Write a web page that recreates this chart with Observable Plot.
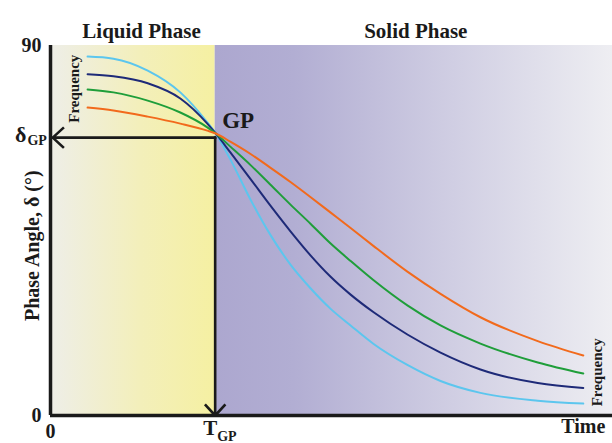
<!DOCTYPE html>
<html><head><meta charset="utf-8">
<script src="https://cdn.jsdelivr.net/npm/d3@7"></script>
<script src="https://cdn.jsdelivr.net/npm/@observablehq/plot@0.6"></script>
<style>body{margin:0;background:#fff}</style>
</head><body><div id="chart"></div>
<script>
// Data
const time = [6.6, 11.2, 17.3, 23.1, 27.9, 29.4, 32.0, 35.6, 39.1, 42.7, 46.3, 49.8, 53.4, 57.5, 63.5, 69.4, 76.5, 86.7, 94.8];
const cyanDelta   = [87.3, 86.8, 83.9, 78.6, 71.3, 68.6, 62.3, 52.5, 44.0, 36.7, 30.9, 26.0, 21.9, 17.4, 12.3, 8.4, 5.5, 3.6, 2.9];
const navyDelta   = [83.0, 82.5, 80.8, 77.1, 71.0, 68.6, 64.0, 57.5, 51.1, 44.8, 38.9, 33.8, 29.4, 25.1, 19.7, 15.3, 11.2, 7.9, 6.7];
const greenDelta  = [79.3, 78.6, 76.6, 73.7, 70.1, 68.6, 65.4, 60.9, 56.2, 51.3, 46.6, 41.9, 37.6, 32.9, 26.8, 21.9, 17.5, 12.9, 10.2];
const orangeDelta = [74.9, 74.2, 72.7, 71.0, 69.3, 68.6, 66.6, 63.6, 60.3, 56.8, 53.1, 49.4, 45.6, 41.2, 35.0, 29.6, 23.9, 18.1, 14.6];
const seriesColors = ["#5cc6ee", "#1e2a78", "#1f9e3a", "#f26a1c"];
const T_GP = 29.3;
const deltaGP = 67.6;
const yTicks = [0, 90];
const xTicks = [0];
const phaseTitles = ["Liquid Phase", "Solid Phase"];
const phaseTitleX = [16.2, 65.0];

const allSeries = [cyanDelta, navyDelta, greenDelta, orangeDelta];
const rows = s => time.map((t, i) => ({t, d: s[i]}));

const F = "Liberation Serif";
const ink = "#1a1a1a";

const gradients = () => {
  const defs = d3.create("svg:defs");
  const liq = defs.append("linearGradient").attr("id", "liq").attr("x1", 0).attr("x2", 1).attr("y1", 0).attr("y2", 0);
  liq.append("stop").attr("offset", "0%").attr("stop-color", "#eeeee8");
  liq.append("stop").attr("offset", "55%").attr("stop-color", "#f3efba");
  liq.append("stop").attr("offset", "100%").attr("stop-color", "#f5f0a2");
  const sol = defs.append("linearGradient").attr("id", "sol").attr("x1", 0).attr("x2", 1).attr("y1", 0).attr("y2", 0);
  sol.append("stop").attr("offset", "0%").attr("stop-color", "#aca7cf");
  sol.append("stop").attr("offset", "20%").attr("stop-color", "#b2aed3");
  sol.append("stop").attr("offset", "60%").attr("stop-color", "#d0cee3");
  sol.append("stop").attr("offset", "100%").attr("stop-color", "#eeeef2");
  return defs.node();
};

const chart = Plot.plot({
  width: 612, height: 443,
  marginTop: 45, marginBottom: 28, marginLeft: 50, marginRight: 0,
  x: {domain: [0, 100]},
  y: {domain: [0, 90]},
  style: {fontFamily: F, fontWeight: "bold", color: ink, background: "#fff"},
  marks: [
    gradients,
    Plot.rect([{x1: 0, x2: T_GP, y1: 0, y2: 90}], {x1: "x1", x2: "x2", y1: "y1", y2: "y2", fill: "url(#liq)"}),
    Plot.rect([{x1: T_GP, x2: 100, y1: 0, y2: 90}], {x1: "x1", x2: "x2", y1: "y1", y2: "y2", fill: "url(#sol)"}),
    Plot.arrow([
      {x1: T_GP, y1: deltaGP, x2: 0.4, y2: deltaGP},
      {x1: T_GP, y1: deltaGP, x2: T_GP, y2: 0}
    ], {x1: "x1", y1: "y1", x2: "x2", y2: "y2", stroke: ink, strokeWidth: 2.6, headLength: 8, headAngle: 85, strokeLinecap: "square"}),
    ...allSeries.map((s, i) => Plot.line(rows(s), {x: "t", y: "d", stroke: seriesColors[i], strokeWidth: 2, curve: "monotone-x"})),
    Plot.ruleX([0], {stroke: ink, strokeWidth: 3.5}),
    Plot.ruleY([0], {stroke: ink, strokeWidth: 3.5}),
    Plot.axisY({ticks: yTicks, tickSize: 0, tickPadding: 9, fontSize: 20, fontWeight: "bold", label: null}),
    Plot.axisX({ticks: xTicks, tickSize: 0, tickPadding: 8, fontSize: 20, fontWeight: "bold", label: null}),
    Plot.text(phaseTitles, {x: (d, i) => phaseTitleX[i], frameAnchor: "top", dy: -22, fontSize: 21}),
    Plot.text(["Phase Angle, δ (°)"], {x: -3.2, y: 41.3, rotate: -90, fontSize: 20}),
    Plot.text(["Frequency"], {x: 4.3, y: 79.5, rotate: -90, fontSize: 15}),
    Plot.text(["Frequency"], {x: 97.2, y: 10.5, rotate: -90, fontSize: 15}),
    Plot.text(["GP"], {x: T_GP, y: 71.7, textAnchor: "start", dx: 7, fontSize: 23}),
    Plot.text(["T"], {x: T_GP, frameAnchor: "bottom", dx: -5, dy: 19, fontSize: 21}),
    Plot.text(["GP"], {x: T_GP, frameAnchor: "bottom", textAnchor: "start", dx: 2, dy: 25, fontSize: 14}),
    Plot.text(["δ"], {x: -5.3, y: 68.2, fontSize: 22}),
    Plot.text(["GP"], {x: -4.1, y: 66.9, textAnchor: "start", fontSize: 14}),
    Plot.text(["Time"], {x: 94.8, frameAnchor: "bottom", dy: 17, fontSize: 20})
  ]
});
document.getElementById("chart").append(chart);
</script></body></html>
